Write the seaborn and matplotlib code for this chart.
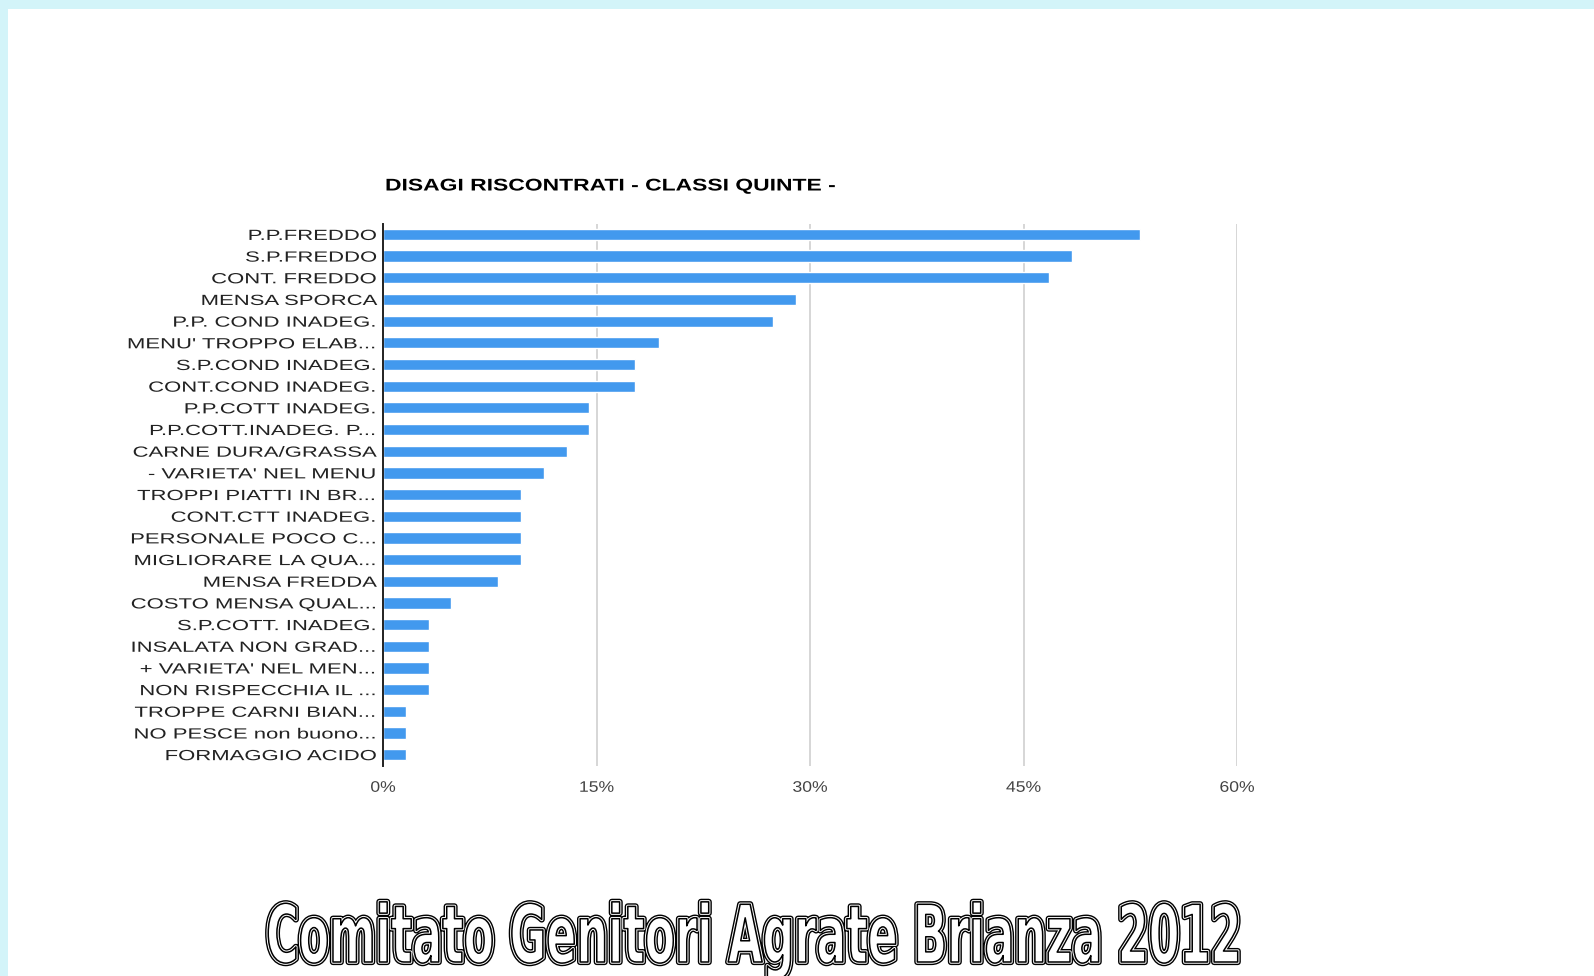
import matplotlib
matplotlib.use("Agg")
import matplotlib.pyplot as plt
import seaborn as sns
import pandas as pd
from matplotlib import patheffects as pe
from matplotlib.patches import Rectangle
from matplotlib.transforms import Affine2D

# data (share of answers, %)
categories = [
    "P.P.FREDDO", "S.P.FREDDO", "CONT. FREDDO", "MENSA SPORCA",
    "P.P. COND INADEG.", "MENU' TROPPO ELAB...", "S.P.COND INADEG.",
    "CONT.COND INADEG.", "P.P.COTT INADEG.", "P.P.COTT.INADEG. P...",
    "CARNE DURA/GRASSA", "- VARIETA' NEL MENU", "TROPPI PIATTI IN BR...",
    "CONT.CTT INADEG.", "PERSONALE POCO C...", "MIGLIORARE LA QUA...",
    "MENSA FREDDA", "COSTO MENSA QUAL...", "S.P.COTT. INADEG.",
    "INSALATA NON GRAD...", "+ VARIETA' NEL MEN...", "NON RISPECCHIA IL ...",
    "TROPPE CARNI BIAN...", "NO PESCE non buono...", "FORMAGGIO ACIDO",
]
percent = [
    53.2, 48.4, 46.8, 29.0, 27.4, 19.4, 17.7, 17.7, 14.5, 14.5,
    12.9, 11.3, 9.7, 9.7, 9.7, 9.7, 8.1, 4.8, 3.2, 3.2,
    3.2, 3.2, 1.6, 1.6, 1.6,
]
xticks = [0, 15, 30, 45, 60]
xticklabels = ["0%", "15%", "30%", "45%", "60%"]
title = "DISAGI RISCONTRATI - CLASSI QUINTE -"
footer = "Comitato Genitori Agrate Brianza 2012"

W, H, DPI = 1594, 976, 100


class Stretch(pe.Stroke):
    """Stroke effect that also rescales glyphs around the pixel point (cx, cy)."""

    def __init__(self, cx, sx, cy=0, sy=1, **kw):
        super().__init__(**kw)
        self.cx, self.cy = cx, cy
        self.sx, self.sy = sx, sy

    def _offset_transform(self, renderer):
        return (Affine2D().translate(-self.cx, -self.cy)
                .scale(self.sx, self.sy).translate(self.cx, self.cy))


def main():
    sns.set_style("white")
    plt.rcParams["font.family"] = ["Liberation Sans", "DejaVu Sans"]

    df = pd.DataFrame({"cat": categories, "pct": percent})

    fig = plt.figure(figsize=(W / DPI, H / DPI), dpi=DPI)
    fig.patch.set_facecolor("white")

    # light cyan frame on top and left edge
    fig.patches.append(Rectangle((0, 1 - 9 / H), 1, 9 / H, transform=fig.transFigure,
                                 facecolor="#d3f4f9", edgecolor="none", zorder=0))
    fig.patches.append(Rectangle((0, 0), 8 / W, 1, transform=fig.transFigure,
                                 facecolor="#d3f4f9", edgecolor="none", zorder=0))

    left, right = 383 / W, 1237 / W
    top, bottom = 1 - 223.6 / H, 1 - 765.5 / H
    ax = fig.add_axes([left, bottom, right - left, top - bottom])

    sns.barplot(data=df, x="pct", y="cat", orient="h", color="#4299ee",
                saturation=1, width=0.52, ax=ax)

    ax.set_xlim(0, 60)
    ax.set_xticks(xticks)
    ax.set_xticklabels(xticklabels)
    ax.set_xlabel("")
    ax.set_ylabel("")
    ax.grid(axis="x", color="#cccccc", linewidth=1.1)
    ax.set_axisbelow(True)
    for s in ["top", "right", "bottom"]:
        ax.spines[s].set_visible(False)
    ax.spines["left"].set_color("#222222")
    ax.spines["left"].set_linewidth(1.4)
    ax.spines["left"].set_zorder(5)

    ypad = 3.6
    ax.tick_params(axis="y", length=0, pad=ypad, labelsize=10.6, labelcolor="#222222")
    ax.tick_params(axis="x", length=0, pad=11, labelsize=11, labelcolor="#444444")

    # the source image is stretched horizontally: widen the labels the same way
    cx = ax.transAxes.transform((0, 0))[0] - ypad * DPI / 72
    for lbl in ax.get_yticklabels():
        lbl.set_path_effects([Stretch(cx, 1.5)])
    for val, lbl in zip(xticks, ax.get_xticklabels()):
        px = ax.transData.transform((val, 0))[0]
        lbl.set_path_effects([Stretch(px, 1.15)])

    tx = 385
    fig.text(tx / W, 1 - 186 / H, title, ha="left", va="center", fontsize=12.2,
             fontweight="bold", color="black",
             path_effects=[Stretch(tx, 1.35)])

    # outlined, condensed footer (drawn small, then squeezed / stretched)
    fx, fy = 754, 14
    ft = fig.text(fx / W, fy / H, footer, ha="center", va="baseline", fontsize=42,
                  fontweight="bold", family="DejaVu Sans", color="white")
    renderer = fig.canvas.get_renderer()
    sx = 976 / ft.get_window_extent(renderer).width
    sy = 57 / 42
    ft.set_path_effects([
        Stretch(fx, sx, fy, sy, linewidth=4.5, foreground="black"),
        Stretch(fx, sx, fy, sy, linewidth=2.5, foreground="white"),
        Stretch(fx, sx, fy, sy, linewidth=1.1, foreground="black"),
    ])

    fig.savefig("out.png", dpi=DPI)


if __name__ == "__main__":
    main()
